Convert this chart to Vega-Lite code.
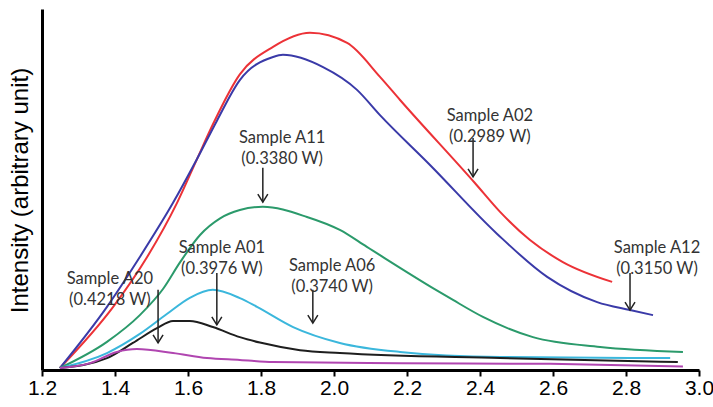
{
  "$schema": "https://vega.github.io/schema/vega-lite/v6.json",
  "width": 657,
  "height": 361,
  "autosize": {"type": "none"},
  "padding": {"left": 42, "top": 9, "right": 14, "bottom": 37},
  "background": "white",
  "config": {"view": {"stroke": null}},
  "datasets": {
    "curves": [
      {"s": "A02", "x": 1.249, "y": 0.55}, {"s": "A02", "x": 1.395, "y": 17.5}, {"s": "A02", "x": 1.488, "y": 31.3}, {"s": "A02", "x": 1.570, "y": 46.3}, {"s": "A02", "x": 1.625, "y": 58.5}, {"s": "A02", "x": 1.668, "y": 68.0}, {"s": "A02", "x": 1.742, "y": 81.9}, {"s": "A02", "x": 1.833, "y": 89.5}, {"s": "A02", "x": 1.934, "y": 93.4}, {"s": "A02", "x": 2.036, "y": 90.6}, {"s": "A02", "x": 2.126, "y": 81.2}, {"s": "A02", "x": 2.181, "y": 74.8}, {"s": "A02", "x": 2.386, "y": 51.8}, {"s": "A02", "x": 2.455, "y": 43.8}, {"s": "A02", "x": 2.537, "y": 36.0}, {"s": "A02", "x": 2.627, "y": 29.9}, {"s": "A02", "x": 2.762, "y": 24.4},
      {"s": "A12", "x": 1.249, "y": 0.55}, {"s": "A12", "x": 1.378, "y": 17.5}, {"s": "A12", "x": 1.468, "y": 31.3}, {"s": "A12", "x": 1.559, "y": 46.3}, {"s": "A12", "x": 1.625, "y": 58.5}, {"s": "A12", "x": 1.679, "y": 69.0}, {"s": "A12", "x": 1.742, "y": 80.3}, {"s": "A12", "x": 1.833, "y": 86.7}, {"s": "A12", "x": 1.860, "y": 87.3}, {"s": "A12", "x": 1.970, "y": 83.9}, {"s": "A12", "x": 2.063, "y": 77.6}, {"s": "A12", "x": 2.126, "y": 70.6}, {"s": "A12", "x": 2.263, "y": 56.8}, {"s": "A12", "x": 2.447, "y": 37.7}, {"s": "A12", "x": 2.584, "y": 25.8}, {"s": "A12", "x": 2.721, "y": 18.8}, {"s": "A12", "x": 2.811, "y": 16.6}, {"s": "A12", "x": 2.874, "y": 15.2},
      {"s": "A11", "x": 1.249, "y": 0.55}, {"s": "A11", "x": 1.378, "y": 7.8}, {"s": "A11", "x": 1.468, "y": 15.2}, {"s": "A11", "x": 1.532, "y": 22.5}, {"s": "A11", "x": 1.578, "y": 29.8}, {"s": "A11", "x": 1.633, "y": 37.4}, {"s": "A11", "x": 1.688, "y": 42.0}, {"s": "A11", "x": 1.742, "y": 44.3}, {"s": "A11", "x": 1.805, "y": 45.2}, {"s": "A11", "x": 1.926, "y": 42.4}, {"s": "A11", "x": 2.016, "y": 38.8}, {"s": "A11", "x": 2.090, "y": 34.1}, {"s": "A11", "x": 2.271, "y": 22.7}, {"s": "A11", "x": 2.326, "y": 19.4}, {"s": "A11", "x": 2.408, "y": 14.7}, {"s": "A11", "x": 2.545, "y": 9.1}, {"s": "A11", "x": 2.729, "y": 6.4}, {"s": "A11", "x": 2.956, "y": 5.0},
      {"s": "A01", "x": 1.249, "y": 0.55}, {"s": "A01", "x": 1.378, "y": 4.7}, {"s": "A01", "x": 1.468, "y": 10.0}, {"s": "A01", "x": 1.542, "y": 15.5}, {"s": "A01", "x": 1.605, "y": 20.0}, {"s": "A01", "x": 1.668, "y": 22.2}, {"s": "A01", "x": 1.742, "y": 19.9}, {"s": "A01", "x": 1.789, "y": 17.5}, {"s": "A01", "x": 1.888, "y": 11.9}, {"s": "A01", "x": 2.016, "y": 7.5}, {"s": "A01", "x": 2.181, "y": 5.0}, {"s": "A01", "x": 2.455, "y": 3.6}, {"s": "A01", "x": 2.921, "y": 3.3},
      {"s": "A06", "x": 1.249, "y": 0.55}, {"s": "A06", "x": 1.378, "y": 3.3}, {"s": "A06", "x": 1.449, "y": 7.5}, {"s": "A06", "x": 1.515, "y": 11.6}, {"s": "A06", "x": 1.559, "y": 13.6}, {"s": "A06", "x": 1.605, "y": 13.6}, {"s": "A06", "x": 1.668, "y": 11.9}, {"s": "A06", "x": 1.742, "y": 9.1}, {"s": "A06", "x": 1.797, "y": 7.6}, {"s": "A06", "x": 1.907, "y": 5.5}, {"s": "A06", "x": 2.016, "y": 4.7}, {"s": "A06", "x": 2.455, "y": 3.3}, {"s": "A06", "x": 2.942, "y": 2.2},
      {"s": "A20", "x": 1.249, "y": 0.55}, {"s": "A20", "x": 1.332, "y": 1.9}, {"s": "A20", "x": 1.405, "y": 5.0}, {"s": "A20", "x": 1.460, "y": 5.8}, {"s": "A20", "x": 1.559, "y": 4.7}, {"s": "A20", "x": 1.652, "y": 3.3}, {"s": "A20", "x": 1.742, "y": 2.8}, {"s": "A20", "x": 1.833, "y": 2.2}, {"s": "A20", "x": 2.181, "y": 1.9}, {"s": "A20", "x": 2.592, "y": 1.7}, {"s": "A20", "x": 2.956, "y": 1.0}
    ],
    "annots": [
      {"name": "Sample A02\n(0.2989 W)", "tx": 2.427, "ty": 70.4, "ax": 2.381, "a1": 64.3, "a2": 53.5},
      {"name": "Sample A12\n(0.3150 W)", "tx": 2.885, "ty": 33.9, "ax": 2.811, "a1": 26.9, "a2": 16.6},
      {"name": "Sample A11\n(0.3380 W)", "tx": 1.858, "ty": 64.4, "ax": 1.805, "a1": 56.0, "a2": 46.5},
      {"name": "Sample A01\n(0.3976 W)", "tx": 1.693, "ty": 33.8, "ax": 1.679, "a1": 26.9, "a2": 12.5},
      {"name": "Sample A06\n(0.3740 W)", "tx": 1.995, "ty": 28.8, "ax": 1.942, "a1": 22.2, "a2": 13.0},
      {"name": "Sample A20\n(0.4218 W)", "tx": 1.386, "ty": 25.2, "ax": 1.518, "a1": 22.2, "a2": 7.5}
    ]
  },
  "layer": [
    {
      "data": {"name": "curves"},
      "mark": {"type": "line", "interpolate": "monotone", "strokeWidth": 2},
      "encoding": {
        "x": {"field": "x", "type": "quantitative",
              "scale": {"domain": [1.2, 3.0], "nice": false, "zero": false},
              "axis": {"values": [1.2, 1.4, 1.6, 1.8, 2.0, 2.2, 2.4, 2.6, 2.8, 3.0], "format": ".1f", "title": null, "grid": false,
                       "domainColor": "black", "domainWidth": 3, "tickColor": "black", "tickWidth": 2, "tickSize": 6,
                       "labelFont": "Liberation Sans", "labelFontSize": 21, "labelColor": "black", "labelPadding": 1, "labelFlush": false}},
        "y": {"field": "y", "type": "quantitative",
              "scale": {"domain": [0, 100], "nice": false},
              "axis": {"title": "Intensity (arbitrary unit)", "labels": false, "ticks": false, "grid": false,
                       "domainColor": "black", "domainWidth": 3,
                       "titleFont": "Liberation Sans", "titleFontSize": 24, "titleFontWeight": "normal", "titleColor": "black",
                       "titleAngle": -90, "titleX": -22, "titleY": 181, "titleAlign": "center", "titleBaseline": "middle"}},
        "color": {"field": "s", "type": "nominal", "legend": null,
                  "scale": {"domain": ["A02", "A12", "A11", "A01", "A06", "A20"],
                            "range": ["#ec3237", "#3a3aa8", "#2b9a6b", "#3bb7dc", "#1e1e1e", "#b045b0"]}}
      }
    },
    {
      "data": {"name": "annots"},
      "mark": {"type": "rule", "color": "#222222", "strokeWidth": 1.5},
      "encoding": {
        "x": {"field": "ax", "type": "quantitative"},
        "y": {"field": "a1", "type": "quantitative"},
        "y2": {"field": "a2"}
      }
    },
    {
      "data": {"name": "annots"},
      "mark": {"type": "point", "shape": "M-1,-1.6L0,0L1,-1.6", "filled": false, "stroke": "#222222", "strokeWidth": 1.5, "size": 100, "opacity": 1},
      "encoding": {
        "x": {"field": "ax", "type": "quantitative"},
        "y": {"field": "a2", "type": "quantitative"}
      }
    },
    {
      "data": {"name": "annots"},
      "mark": {"type": "text", "font": "Lato", "fontSize": 16.5, "color": "#333333", "lineBreak": "\n", "lineHeight": 21, "align": "center", "baseline": "middle"},
      "encoding": {
        "x": {"field": "tx", "type": "quantitative"},
        "y": {"field": "ty", "type": "quantitative"},
        "text": {"field": "name", "type": "nominal"}
      }
    }
  ]
}
